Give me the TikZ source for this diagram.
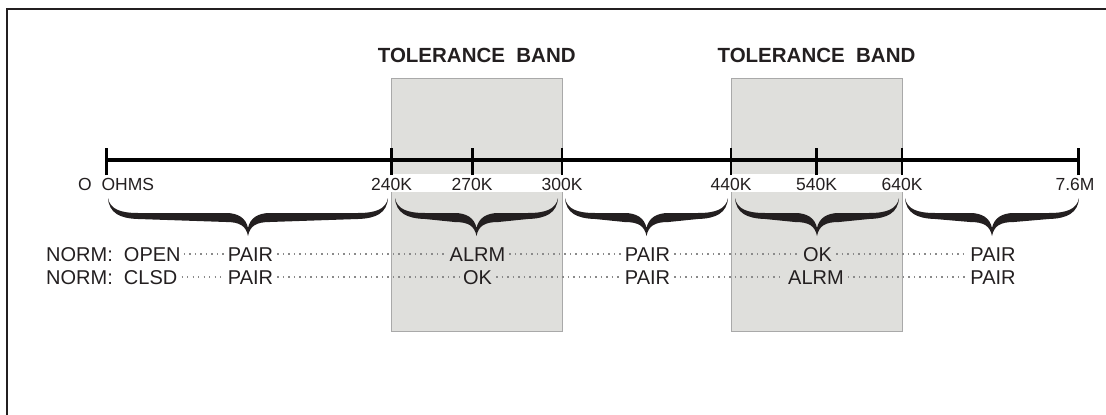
\documentclass[tikz,border=0pt]{standalone}
\usepackage{fontspec}
\setmainfont{Liberation Sans}
\definecolor{bandfill}{HTML}{DFDFDC}
\definecolor{bandline}{HTML}{A9A9A9}
\definecolor{ink}{HTML}{231F20}
\definecolor{dotcol}{HTML}{8A8A8A}
\newcommand{\cbr}[2]{%
  \pgfmathsetmacro\bl{#1}\pgfmathsetmacro\br{#2}\pgfmathsetmacro\bc{(#1+#2)/2}%
  \fill[ink] (\bl,198) .. controls (\bl+2,209) and (\bl+12,213) .. (\bl+30,213)
    -- (\bc-22,213) .. controls (\bc-10,213) and (\bc-2,218) .. (\bc,228)
    .. controls (\bc+2,218) and (\bc+10,213) .. (\bc+22,213)
    -- (\br-30,213) .. controls (\br-12,213) and (\br-2,209) .. (\br,198)
    .. controls (\br-1,213) and (\br-12,218.5) .. (\br-30,219)
    -- (\bc+22,222) .. controls (\bc+8,222) and (\bc+2,226) .. (\bc,236)
    .. controls (\bc-2,226) and (\bc-8,222) .. (\bc-22,222)
    -- (\bl+30,219) .. controls (\bl+12,218.5) and (\bl+1,213) .. (\bl,198) -- cycle;}
\begin{document}
\begin{tikzpicture}[x=1pt,y=-1pt,
  band/.style={fill=bandfill,draw=bandline,line width=1},
  title/.style={font=\bfseries\fontsize{20.5}{24}\selectfont,text=ink,inner sep=0},
  tlabel/.style={font=\fontsize{17.5}{21}\selectfont,text=ink,inner sep=0,anchor=base,text height=12.5pt,text depth=0pt},
  rowtext/.style={font=\fontsize{20}{24}\selectfont,text=ink,inner xsep=4pt,inner ysep=0pt,anchor=base,text height=14.3pt,text depth=0pt},
  dotline/.style={dotcol,line width=1.4,dash pattern=on 1.4pt off 4.1pt},
  axisline/.style={line width=3.5,black},
  tick/.style={line width=2.5,black}]
\clip (0,0) rectangle (1106,415);
% frame
\draw[line width=2,ink] (7,420) -- (7,9) -- (1110,9);
% tolerance bands
\draw[band] (391.5,78) rectangle (562,331);
\draw[band] (731,78) rectangle (902,331);
\fill[white] (389,174) rectangle (564.5,192);
\fill[white] (728.5,174) rectangle (904.5,192);
\node[title] (t1) at (476.75,55.5) {TOLERANCE\ \ BAND};
\node[title] (t2) at (816.5,55.5) {TOLERANCE\ \ BAND};
% axis
\coordinate (a0) at (106.7,160);
\coordinate (a1) at (391.5,160);
\coordinate (a2) at (472.5,160);
\coordinate (a3) at (562,160);
\coordinate (a4) at (731,160);
\coordinate (a5) at (816.5,160);
\coordinate (a6) at (902,160);
\coordinate (a7) at (1078.5,160);
\draw[axisline] (a0) -- (a7);
\foreach \p in {a0,a1,a2,a3,a4,a5,a6,a7}
  \draw[tick] ([yshift=-15pt]\p) -- ([yshift=12pt]\p);
% tick labels
\node[tlabel,anchor=base west] (l0) at (78,190.5) {O\ \ OHMS};
\node[tlabel] (l1) at (391.5,190.5) {240K};
\node[tlabel] (l2) at (472,190.5) {270K};
\node[tlabel] (l3) at (562,190.5) {300K};
\node[tlabel] (l4) at (731,190.5) {440K};
\node[tlabel] (l5) at (816.5,190.5) {540K};
\node[tlabel] (l6) at (902,190.5) {640K};
\node[tlabel] (l7) at (1075,190.5) {7.6M};
% braces
\cbr{108}{388}
\cbr{395}{558}
\cbr{565}{728}
\cbr{735}{899}
\cbr{905}{1079}
% row 1
\node[rowtext,anchor=base west,inner xsep=0pt] (r1a) at (46,261) {NORM:\ \ OPEN};
\node[rowtext] (r1b) at (250.5,261) {PAIR};
\node[rowtext] (r1c) at (477.5,261) {ALRM};
\node[rowtext] (r1d) at (647.5,261) {PAIR};
\node[rowtext] (r1e) at (817.5,261) {OK};
\node[rowtext] (r1f) at (993,261) {PAIR};
% row 2
\node[rowtext,anchor=base west,inner xsep=0pt] (r2a) at (46,284) {NORM:\ \ CLSD};
\node[rowtext] (r2b) at (250.5,284) {PAIR};
\node[rowtext] (r2c) at (477.5,284) {OK};
\node[rowtext] (r2d) at (647.5,284) {PAIR};
\node[rowtext] (r2e) at (816,284) {ALRM};
\node[rowtext] (r2f) at (993,284) {PAIR};
% dotted leaders
\draw[dotline] ([xshift=3pt]r1a.east) -- (r1b.west);
\draw[dotline] (r1b.east) -- (r1c.west);
\draw[dotline] (r1c.east) -- (r1d.west);
\draw[dotline] (r1d.east) -- (r1e.west);
\draw[dotline] (r1e.east) -- (r1f.west);
\draw[dotline] ([xshift=4pt]r2a.east) -- (r2b.west);
\draw[dotline] (r2b.east) -- (r2c.west);
\draw[dotline] (r2c.east) -- (r2d.west);
\draw[dotline] (r2d.east) -- (r2e.west);
\draw[dotline] (r2e.east) -- (r2f.west);
\end{tikzpicture}
\end{document}
